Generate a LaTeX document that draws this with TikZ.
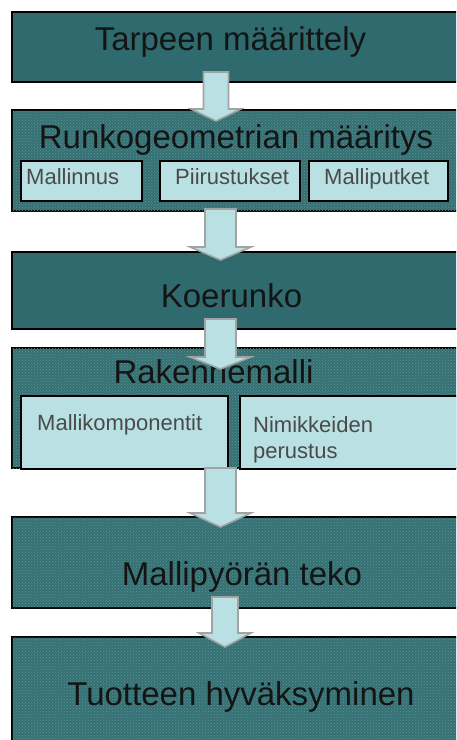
\documentclass[tikz,border=0pt]{standalone}
\usepackage{fontspec}
\setmainfont{Liberation Sans}
\usetikzlibrary{patterns}
\definecolor{teal}{HTML}{2F6B6E}
\definecolor{tealtex}{HTML}{357174}
\definecolor{dotc}{HTML}{5E9396}
\definecolor{pale}{HTML}{B9E0E3}
\definecolor{arrowedge}{HTML}{A3A3A3}
\definecolor{subtext}{HTML}{4A4A4A}
\tikzset{
  stage/.style={draw=black, line width=1.2pt, fill=teal},
  stagetex/.style={draw=black, line width=1.2pt, fill=tealtex,
    postaction={pattern=crosshatch dots, pattern color=dotc}},
  subbox/.style={draw=black, line width=1.4pt, fill=pale},
  title/.style={font=\fontsize{33}{37}\selectfont, text=black!92, anchor=base, inner sep=0pt},
  sublabel/.style={font=\fontsize{22}{26}\selectfont, text=subtext, anchor=base west, inner sep=0pt, align=left},
  blockarrow/.style={fill=pale, draw=arrowedge, line width=1.6pt, line join=miter}
}
% block arrow: centre x, shaft top, head base, tip, half shaft width, half head width
\newcommand\blockarrow[6]{%
  \draw[blockarrow] (#1-#5,#2) -- (#1+#5,#2) -- (#1+#5,#3) -- (#1+#6,#3)
    -- (#1,#4) -- (#1-#6,#3) -- (#1-#5,#3) -- cycle;}
\begin{document}
\begin{tikzpicture}[x=1pt,y=-1pt]
\useasboundingbox (0,0) rectangle (456,740);
\clip (0,0) rectangle (456,740);
\fill[white] (0,0) rectangle (456,740);

% stage boxes
\draw[stage]    (12,12)  rectangle (470,82)  coordinate (s1);
\draw[stagetex] (12,110) rectangle (470,211) coordinate (s2);
\draw[stage]    (12,252) rectangle (470,329) coordinate (s3);
\draw[stagetex] (12,348) rectangle (470,468) coordinate (s4);
\draw[stagetex] (12,517) rectangle (470,608) coordinate (s5);
\draw[stagetex] (12,637) rectangle (470,760) coordinate (s6);

% sub-boxes
\draw[subbox] (21,161)  rectangle (142,201);
\draw[subbox] (160,161) rectangle (300,201);
\draw[subbox] (309,161) rectangle (448,201);
\draw[subbox] (21,396)  rectangle (228,469);
\draw[subbox] (240,396) rectangle (470,469);

% titles
\node[title] (t1) at (230.5,50)  {Tarpeen määrittely};
\node[title] (t2) at (236,148)   {Runkogeometrian määritys};
\node[title] (t3) at (231.5,307) {Koerunko};
\node[title] (t4) at (213.5,383) {Rakennemalli};
\node[title] (t5) at (242,585)   {Mallipyörän teko};
\node[title] (t6) at (241,705)   {Tuotteen hyväksyminen};

% sub-labels
\node[sublabel] (m1) at (26,184)  {Mallinnus};
\node[sublabel] (m2) at (175,184) {Piirustukset};
\node[sublabel] (m3) at (324,184) {Malliputket};
\node[sublabel] (m4) at (37,430)  {Mallikomponentit};
\node[sublabel] (m5) at (253,432) {Nimikkeiden};
\node[sublabel] (m6) at (253,458) {perustus};

% flow arrows
\blockarrow{216}{72}{109}{121}{12.5}{25}
\blockarrow{220.5}{209}{247}{260}{15.5}{30.5}
\blockarrow{220.5}{319}{357}{369}{15.5}{30.5}
\blockarrow{220.5}{468}{513}{527}{15.5}{30.5}
\blockarrow{225}{597}{633}{647}{13}{26}
\end{tikzpicture}
\end{document}
